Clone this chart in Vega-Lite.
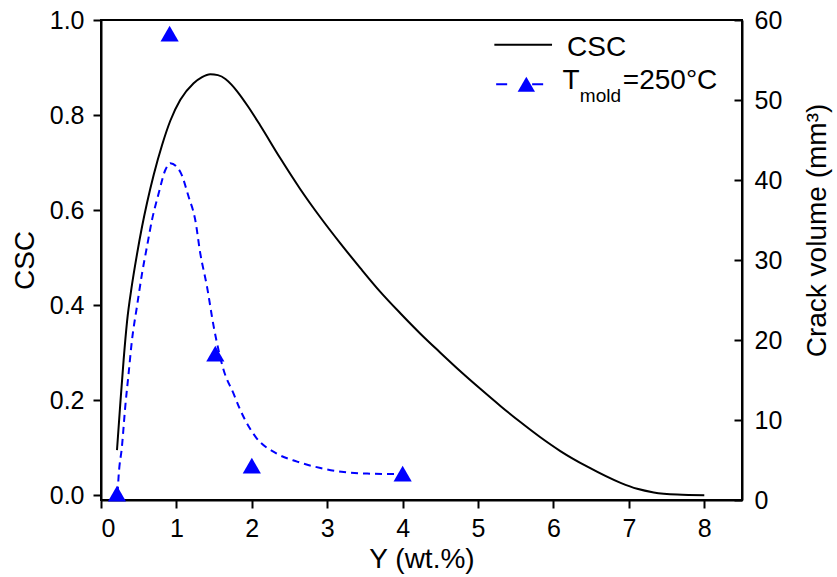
{
  "$schema": "https://vega.github.io/schema/vega-lite/v6.json",
  "width": 641,
  "height": 480,
  "autosize": "none",
  "padding": {"left": 101, "top": 20, "right": 95, "bottom": 77},
  "background": "white",
  "config": {
    "view": {"stroke": "black", "strokeWidth": 2},
    "font": "Liberation Sans",
    "axis": {
      "grid": false,
      "domainColor": "black",
      "domainWidth": 2,
      "tickColor": "black",
      "tickWidth": 2,
      "tickSize": 8,
      "labelColor": "black",
      "labelFont": "Liberation Sans",
      "labelFontSize": 25,
      "titleFont": "Liberation Sans",
      "titleFontSize": 28,
      "titleFontWeight": "normal",
      "titleColor": "black"
    }
  },
  "datasets": {
    "csc": [
      {"x": 0.212, "v": 0.095},
      {"x": 0.256, "v": 0.193},
      {"x": 0.30, "v": 0.285},
      {"x": 0.345, "v": 0.365},
      {"x": 0.411, "v": 0.443},
      {"x": 0.477, "v": 0.507},
      {"x": 0.544, "v": 0.565},
      {"x": 0.61, "v": 0.615},
      {"x": 0.70, "v": 0.675},
      {"x": 0.81, "v": 0.737},
      {"x": 0.919, "v": 0.788},
      {"x": 1.052, "v": 0.832},
      {"x": 1.228, "v": 0.867},
      {"x": 1.34, "v": 0.880},
      {"x": 1.449, "v": 0.886},
      {"x": 1.55, "v": 0.884},
      {"x": 1.65, "v": 0.876},
      {"x": 1.73, "v": 0.864},
      {"x": 1.80, "v": 0.851},
      {"x": 1.95, "v": 0.818},
      {"x": 2.112, "v": 0.778},
      {"x": 2.378, "v": 0.709},
      {"x": 2.643, "v": 0.644},
      {"x": 2.908, "v": 0.585},
      {"x": 3.174, "v": 0.530},
      {"x": 3.439, "v": 0.478},
      {"x": 3.704, "v": 0.428},
      {"x": 3.969, "v": 0.383},
      {"x": 4.235, "v": 0.340},
      {"x": 4.50, "v": 0.300},
      {"x": 4.765, "v": 0.261},
      {"x": 5.03, "v": 0.224},
      {"x": 5.296, "v": 0.188},
      {"x": 5.561, "v": 0.154},
      {"x": 5.826, "v": 0.122},
      {"x": 6.091, "v": 0.093},
      {"x": 6.45, "v": 0.060},
      {"x": 6.89, "v": 0.026},
      {"x": 7.11, "v": 0.0135},
      {"x": 7.33, "v": 0.006},
      {"x": 7.64, "v": 0.0015},
      {"x": 8.0, "v": 0.0}
    ],
    "fit": [
      {"x": 0.22, "vol": 0.8},
      {"x": 0.233, "vol": 2.9},
      {"x": 0.278, "vol": 6.7},
      {"x": 0.322, "vol": 11.7},
      {"x": 0.366, "vol": 15.8},
      {"x": 0.411, "vol": 20.0},
      {"x": 0.477, "vol": 24.2},
      {"x": 0.544, "vol": 28.3},
      {"x": 0.61, "vol": 31.7},
      {"x": 0.676, "vol": 35.0},
      {"x": 0.764, "vol": 38.3},
      {"x": 0.853, "vol": 41.25},
      {"x": 0.919, "vol": 42.1},
      {"x": 1.052, "vol": 41.0},
      {"x": 1.162, "vol": 37.9},
      {"x": 1.25, "vol": 35.0},
      {"x": 1.317, "vol": 30.8},
      {"x": 1.405, "vol": 26.7},
      {"x": 1.494, "vol": 21.7},
      {"x": 1.626, "vol": 16.25},
      {"x": 1.758, "vol": 13.3},
      {"x": 1.847, "vol": 11.25},
      {"x": 2.05, "vol": 7.9},
      {"x": 2.33, "vol": 5.8},
      {"x": 2.60, "vol": 4.8},
      {"x": 2.91, "vol": 4.0},
      {"x": 3.22, "vol": 3.5},
      {"x": 3.53, "vol": 3.3},
      {"x": 3.88, "vol": 3.25},
      {"x": 4.0, "vol": 3.25}
    ],
    "meas": [
      {"x": 0.212, "vol": 0.8},
      {"x": 0.91, "vol": 58.3},
      {"x": 1.516, "vol": 18.3},
      {"x": 2.0, "vol": 4.3},
      {"x": 4.0, "vol": 3.3}
    ]
  },
  "layer": [
    {
      "layer": [
        {
          "data": {"name": "csc"},
          "mark": {"type": "line", "color": "black", "strokeWidth": 2, "interpolate": "monotone"},
          "encoding": {
            "x": {
              "field": "x", "type": "quantitative",
              "scale": {"domain": [0, 8.5], "nice": false, "zero": false},
              "axis": {"values": [0, 1, 2, 3, 4, 5, 6, 7, 8], "format": "d", "title": "Y (wt.%)", "labelPadding": 8, "titlePadding": 4}
            },
            "y": {
              "field": "v", "type": "quantitative",
              "scale": {"domain": [-0.01, 1.0], "nice": false, "zero": false},
              "axis": {"orient": "left", "values": [0, 0.2, 0.4, 0.6, 0.8, 1.0], "format": ".1f", "title": "CSC", "labelPadding": 9, "titlePadding": 10}
            }
          }
        },
        {
          "data": {"values": [{}]},
          "mark": {"type": "rule", "color": "black", "strokeWidth": 2},
          "encoding": {"x": {"datum": 5.216}, "x2": {"datum": 5.981}, "y": {"datum": 0.948}}
        },
        {
          "data": {"values": [{}]},
          "mark": {"type": "text", "align": "left", "baseline": "alphabetic", "fontSize": 28, "color": "black", "font": "Liberation Sans"},
          "encoding": {"x": {"datum": 6.18}, "y": {"datum": 0.925}, "text": {"value": "CSC"}}
        },
        {
          "data": {"values": [{}]},
          "mark": {"type": "rule", "color": "#0000ff", "strokeWidth": 2, "strokeDash": [11, 25]},
          "encoding": {"x": {"datum": 5.24}, "x2": {"datum": 5.89}, "y": {"datum": 0.865}}
        },
        {
          "data": {"values": [{}]},
          "mark": {"type": "point", "shape": "triangle-up", "filled": true, "color": "#0000ff", "size": 300, "opacity": 1},
          "encoding": {"x": {"datum": 5.64}, "y": {"datum": 0.865}}
        },
        {
          "data": {"values": [{}]},
          "mark": {"type": "text", "align": "left", "baseline": "alphabetic", "fontSize": 28, "color": "black", "font": "Liberation Sans"},
          "encoding": {"x": {"datum": 6.12}, "y": {"datum": 0.854}, "text": {"value": "T"}}
        },
        {
          "data": {"values": [{}]},
          "mark": {"type": "text", "align": "left", "baseline": "alphabetic", "fontSize": 19, "color": "black", "font": "Liberation Sans"},
          "encoding": {"x": {"datum": 6.35}, "y": {"datum": 0.8275}, "text": {"value": "mold"}}
        },
        {
          "data": {"values": [{}]},
          "mark": {"type": "text", "align": "left", "baseline": "alphabetic", "fontSize": 28, "color": "black", "font": "Liberation Sans"},
          "encoding": {"x": {"datum": 6.92}, "y": {"datum": 0.854}, "text": {"value": "=250°C"}}
        }
      ]
    },
    {
      "layer": [
        {
          "data": {"name": "fit"},
          "mark": {"type": "line", "color": "#0000ff", "strokeWidth": 2, "strokeDash": [7, 5], "interpolate": "monotone"},
          "encoding": {
            "x": {"field": "x", "type": "quantitative"},
            "y": {
              "field": "vol", "type": "quantitative",
              "scale": {"domain": [0, 60], "nice": false, "zero": false},
              "axis": {"orient": "right", "values": [0, 10, 20, 30, 40, 50, 60], "format": "d", "tickSize": -8, "labelPadding": 20, "title": "Crack volume (mm³)", "titleAngle": 270, "titleBaseline": "middle", "titleAlign": "center", "titleX": 75, "titleY": 210}
            }
          }
        },
        {
          "data": {"name": "meas"},
          "mark": {"type": "point", "shape": "triangle-up", "filled": true, "color": "#0000ff", "size": 330, "opacity": 1},
          "encoding": {
            "x": {"field": "x", "type": "quantitative"},
            "y": {"field": "vol", "type": "quantitative"}
          }
        }
      ]
    }
  ],
  "resolve": {"scale": {"y": "independent"}}
}
